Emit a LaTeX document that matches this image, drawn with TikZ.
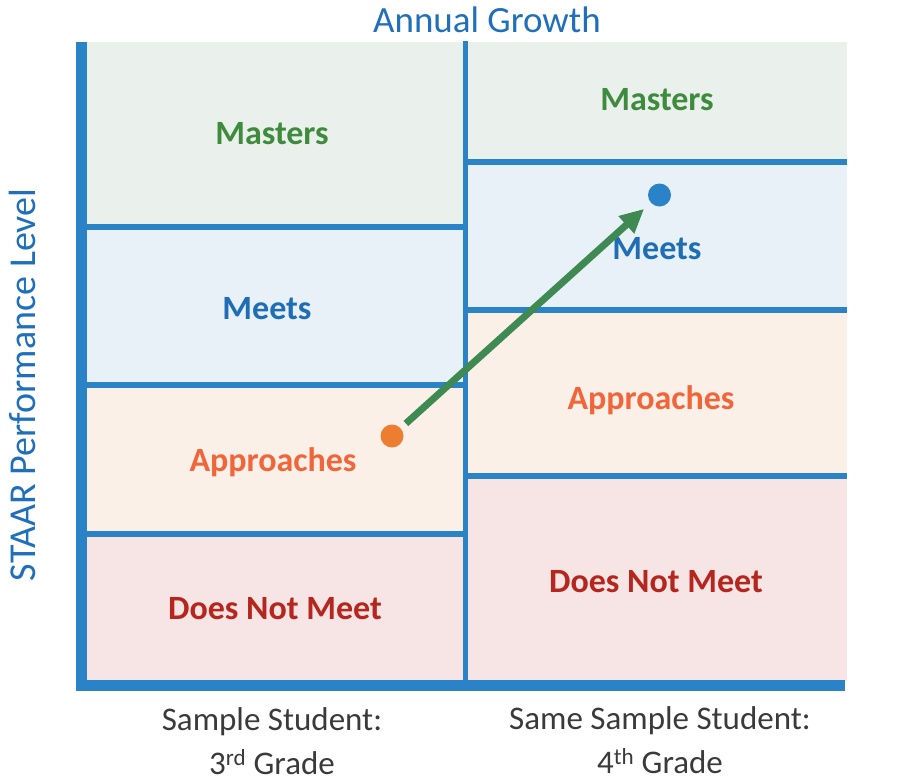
\documentclass[tikz,border=0pt]{standalone}
\usepackage{fontspec}
\setmainfont{Carlito}
\usetikzlibrary{arrows.meta}
\definecolor{axisblue}{HTML}{2A83C6}
\definecolor{titleblue}{HTML}{1F6FBA}
\definecolor{mastersfill}{HTML}{EAF1EC}
\definecolor{meetsfill}{HTML}{E8F0F8}
\definecolor{approachfill}{HTML}{FBF0E8}
\definecolor{dnmfill}{HTML}{F7E4E4}
\definecolor{masterstext}{HTML}{3E8B3E}
\definecolor{meetstext}{HTML}{1F6EB5}
\definecolor{approachtext}{HTML}{F0663A}
\definecolor{dnmtext}{HTML}{B5261E}
\definecolor{dotorange}{HTML}{ED7D31}
\definecolor{arrowgreen}{HTML}{3E8A52}
\definecolor{captiongray}{HTML}{3A3A3A}
\begin{document}
\begin{tikzpicture}[x=1pt,y=-1pt,
  band/.style={draw=none,inner sep=0pt,outer sep=0pt},
  level/.style={font=\fontsize{34}{40}\selectfont\bfseries,inner sep=0pt},
  divider/.style={draw=axisblue,line width=6pt},
  axisline/.style={draw=axisblue,line width=11pt},
  dot/.style={circle,inner sep=0pt,minimum size=23pt},
  caption/.style={font=\fontsize{33}{44}\selectfont,text=captiongray,align=center,inner sep=0pt},
  growth/.style={draw=arrowgreen,line width=7pt,-{Triangle[length=24pt,width=22pt]}}]
\useasboundingbox (0,0) rectangle (922,782);
% left column bands
\fill[mastersfill] (87,42) rectangle (466,227);
\fill[meetsfill] (87,227) rectangle (466,385);
\fill[approachfill] (87,385) rectangle (466,534);
\fill[dnmfill] (87,534) rectangle (466,681);
% right column bands
\fill[mastersfill] (466,42) rectangle (847,162);
\fill[meetsfill] (466,162) rectangle (847,310);
\fill[approachfill] (466,310) rectangle (847,476);
\fill[dnmfill] (466,476) rectangle (847,681);
% dividers
\draw[divider] (87,227) -- (463,227);
\draw[divider] (87,385) -- (463,385);
\draw[divider] (87,534) -- (463,534);
\draw[divider] (468,162) -- (847,162);
\draw[divider] (468,310) -- (847,310);
\draw[divider] (468,476) -- (847,476);
\draw[axisblue,line width=5.5pt] (465.5,41) -- (465.5,681);
% axes
\draw[axisline] (81.5,42) -- (81.5,691);
\draw[axisline] (76,685.5) -- (845,685.5);
% level labels
\node[level,text=masterstext] (lmast) at (272,134) {Masters};
\node[level,text=meetstext] (lmeet) at (267,309) {Meets};
\node[level,text=approachtext] (lappr) at (273,462) {Approaches};
\node[level,text=dnmtext] (ldnm) at (275,609) {Does Not Meet};
\node[level,text=masterstext] (rmast) at (657,100) {Masters};
\node[level,text=meetstext] (rmeet) at (657,249) {Meets};
\node[level,text=approachtext] (rappr) at (651,400) {Approaches};
\node[level,text=dnmtext] (rdnm) at (656,582) {Does Not Meet};
% titles
\node[font=\fontsize{37}{40}\selectfont,text=titleblue,inner sep=0pt] (title) at (487,20) {Annual Growth};
\node[font=\fontsize{38}{40}\selectfont,text=titleblue,inner sep=0pt,rotate=90] (ylabel) at (22,385) {STAAR Performance Level};
% captions
\node[caption] (cap3) at (272,741) {Sample Student:\\3\textsuperscript{rd} Grade};
\node[caption] (cap4) at (660,740) {Same Sample Student:\\4\textsuperscript{th} Grade};
% student dots and growth arrow
\node[dot,fill=dotorange] (d3) at (392,436) {};
\node[dot,fill=axisblue] (d4) at (659.5,195) {};
\draw[growth,shorten <=7pt,shorten >=9pt] (d3) -- (d4);
\end{tikzpicture}
\end{document}
